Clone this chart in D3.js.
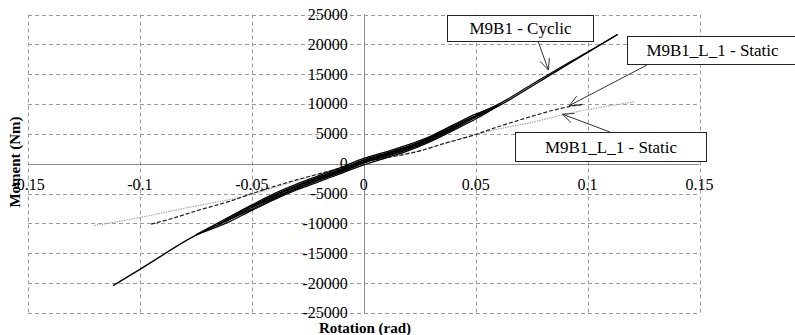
<!DOCTYPE html>
<html>
<head>
<meta charset="utf-8">
<script src="https://cdn.jsdelivr.net/npm/d3@7"></script>
<style>
  body { margin: 0; background: #fff; }
  svg { display: block; }
</style>
</head>
<body>
<div id="chart"></div>
<script>
var serif = "Liberation Serif, Times New Roman, DejaVu Serif, serif";

// Tick values
var xTicks = [-0.15, -0.1, -0.05, 0, 0.05, 0.1, 0.15];
var yTicks = [-25000, -20000, -15000, -10000, -5000, 0, 5000, 10000, 15000, 20000, 25000];

// Cyclic test (M9B1) - branches of the loops, [rotation, moment]
var cyclicUp1   = [[-0.075,-11900],[-0.06,-9700],[-0.05,-7800],[-0.04,-6000],[-0.03,-4400],[-0.02,-3000],[-0.01,-1600],[0,-200],[0.01,1000],[0.02,2200],[0.03,3750],[0.04,5600],[0.05,7500],[0.06,9700]];
var cyclicDown1 = [[-0.075,-11900],[-0.06,-8900],[-0.05,-6900],[-0.04,-5000],[-0.03,-3400],[-0.02,-2000],[-0.01,-600],[0,900],[0.01,2000],[0.02,3200],[0.03,4650],[0.04,6500],[0.05,8300],[0.06,9700]];
var cyclicUp2   = [[-0.065,-10200],[-0.05,-7600],[-0.04,-5800],[-0.03,-4200],[-0.02,-2750],[-0.01,-1400],[0,100],[0.01,1250],[0.02,2400],[0.03,3950],[0.04,5800],[0.055,8800]];
var cyclicDown2 = [[-0.065,-10200],[-0.05,-7050],[-0.04,-5250],[-0.03,-3650],[-0.02,-2200],[-0.01,-850],[0,650],[0.01,1800],[0.02,2950],[0.03,4500],[0.04,6350],[0.055,8800]];
var cyclicUp3   = [[-0.05,-7300],[-0.04,-5650],[-0.03,-4050],[-0.02,-2600],[-0.01,-1250],[0,250],[0.01,1400],[0.02,2550],[0.03,4100],[0.045,7000]];
var cyclicDown3 = [[-0.05,-7300],[-0.04,-5300],[-0.03,-3750],[-0.02,-2300],[-0.01,-950],[0,550],[0.01,1700],[0.02,2850],[0.03,4400],[0.045,7000]];
var cyclicEnvelope = [[-0.112,-20400],[-0.1,-17700],[-0.0756,-12100],[-0.06,-9300],[-0.05,-7300],[-0.04,-5450],[-0.03,-3800],[-0.02,-2450],[-0.01,-1100],[0,400],[0.01,1550],[0.02,2700],[0.03,4250],[0.04,6100],[0.05,7900],[0.0613,9900],[0.0747,12900],[0.09,16400],[0.1134,21650]];
var cyclicReturn = [[0.05,8200],[0.0613,10200],[0.0747,13200],[0.09,16600],[0.1,18700],[0.1134,21650]];

// Static test, dashed
var staticDashed = [[-0.095,-10120],[-0.085,-9100],[-0.074,-7800],[-0.06,-6300],[-0.05,-5000],[-0.04,-3800],[-0.03,-2700],[-0.02,-1700],[-0.01,-700],[0,300],[0.01,1000],[0.0256,2200],[0.035,3300],[0.05,4900],[0.06,6200],[0.0747,7900],[0.085,9000],[0.0925,9620],[0.098,9950]];
// Static test, grey dotted
var staticDotted = [[-0.1203,-10350],[-0.11,-9700],[-0.1,-9000],[-0.0741,-7000],[-0.06,-6000],[-0.05,-5100],[-0.04,-4000],[-0.03,-2800],[-0.02,-1700],[-0.01,-700],[0,300],[0.01,1000],[0.025,2200],[0.04,3800],[0.05,4900],[0.06,5800],[0.0747,6900],[0.0925,8500],[0.105,9400],[0.1208,10350]];

// Annotation labels: box in pixels, arrow head at a data point
var notes = [
  {label: "M9B1 - Cyclic",     box: [447, 15, 146, 26], from: [538, 41], to: [0.0825, 15700]},
  {label: "M9B1_L_1 - Static", box: [627, 36, 170, 28], from: [647, 65], to: [0.0918, 9730]},
  {label: "M9B1_L_1 - Static", box: [515, 132, 191, 29], from: [610, 132], to: [0.0888, 8300]}
];

var width = 795, height = 335;
var x = d3.scaleLinear().domain([-0.15, 0.15]).range([28, 699.5]);
var y = d3.scaleLinear().domain([-25000, 25000]).range([313, 14.5]);

var svg = d3.select("#chart").append("svg")
    .attr("width", width)
    .attr("height", height)
    .attr("font-family", serif);

// Grid
svg.append("g").selectAll("line").data(yTicks).enter().append("line")
    .attr("x1", x(-0.15)).attr("x2", x(0.15))
    .attr("y1", function(d) { return Math.round(y(d)) + 0.5; })
    .attr("y2", function(d) { return Math.round(y(d)) + 0.5; })
    .style("stroke", "#9a9a9a").style("stroke-dasharray", "4,3");
svg.append("g").selectAll("line").data(xTicks).enter().append("line")
    .attr("y1", y(25000)).attr("y2", y(-25000))
    .attr("x1", function(d) { return Math.round(x(d)) + 0.5; })
    .attr("x2", function(d) { return Math.round(x(d)) + 0.5; })
    .style("stroke", "#9a9a9a").style("stroke-dasharray", "4,3");

// Axis lines through zero
svg.append("line")
    .attr("x1", x(-0.15)).attr("x2", x(0.15))
    .attr("y1", Math.round(y(0)) + 0.5).attr("y2", Math.round(y(0)) + 0.5)
    .style("stroke", "#8c8c8c");
svg.append("line")
    .attr("x1", Math.round(x(0)) + 0.5).attr("x2", Math.round(x(0)) + 0.5)
    .attr("y1", y(25000)).attr("y2", y(-25000))
    .style("stroke", "#8c8c8c");

// Tick labels
svg.append("g").selectAll("text").data(yTicks).enter().append("text")
    .attr("x", x(0) - 16)
    .attr("y", function(d) { return y(d); })
    .attr("dy", "0.34em")
    .style("text-anchor", "end")
    .style("font-size", "16px")
    .text(function(d) { return d; });
svg.append("g").selectAll("text").data(xTicks).enter().append("text")
    .attr("x", function(d) { return x(d); })
    .attr("y", y(0) + 26)
    .style("text-anchor", "middle")
    .style("font-size", "16px")
    .text(function(d) { return d; });

// Curves
var line = d3.line()
    .x(function(d) { return x(d[0]); })
    .y(function(d) { return y(d[1]); })
    .curve(d3.curveMonotoneX);

svg.append("path").attr("d", line(staticDotted))
    .style("fill", "none").style("stroke", "#a8a8a8").style("stroke-width", 1.2)
    .style("stroke-dasharray", "1.5,1");
svg.append("path").attr("d", line(staticDashed))
    .style("fill", "none").style("stroke", "#222").style("stroke-width", 1.2)
    .style("stroke-dasharray", "4,2");

[cyclicUp1, cyclicDown1, cyclicUp2, cyclicDown2, cyclicUp3, cyclicDown3].forEach(function(branch) {
    svg.append("path").attr("d", line(branch))
        .style("fill", "none").style("stroke", "#000").style("stroke-width", 1.3);
});
svg.append("path").attr("d", line(cyclicEnvelope))
    .style("fill", "none").style("stroke", "#000").style("stroke-width", 1.4);
svg.append("path").attr("d", line(cyclicReturn))
    .style("fill", "none").style("stroke", "#000").style("stroke-width", 1.2);

// Annotations
notes.forEach(function(n) {
    var tx = x(n.to[0]), ty = y(n.to[1]);
    var ang = Math.atan2(ty - n.from[1], tx - n.from[0]);
    var g = svg.append("g");
    g.append("line")
        .attr("x1", n.from[0]).attr("y1", n.from[1])
        .attr("x2", tx).attr("y2", ty)
        .style("stroke", "#333").style("stroke-width", 1);
    [0.42, -0.42].forEach(function(da) {
        g.append("line")
            .attr("x1", tx).attr("y1", ty)
            .attr("x2", tx - 12 * Math.cos(ang + da))
            .attr("y2", ty - 12 * Math.sin(ang + da))
            .style("stroke", "#333").style("stroke-width", 1);
    });
    g.append("rect")
        .attr("x", n.box[0] + 0.5).attr("y", n.box[1] + 0.5)
        .attr("width", n.box[2]).attr("height", n.box[3])
        .style("fill", "#fff").style("stroke", "#222").style("stroke-width", 1);
    g.append("text")
        .attr("x", n.box[0] + n.box[2] / 2 + 0.5)
        .attr("y", n.box[1] + n.box[3] / 2)
        .attr("dy", "0.36em")
        .style("text-anchor", "middle")
        .style("font-size", "17px")
        .text(n.label);
});

// Axis titles
svg.append("text")
    .attr("x", 365).attr("y", 333)
    .style("text-anchor", "middle")
    .style("font-size", "15px").style("font-weight", "bold")
    .text("Rotation (rad)");
svg.append("text")
    .attr("transform", "translate(20,162) rotate(-90)")
    .style("text-anchor", "middle")
    .style("font-size", "15px").style("font-weight", "bold")
    .text("Moment (Nm)");
</script>
</body>
</html>
